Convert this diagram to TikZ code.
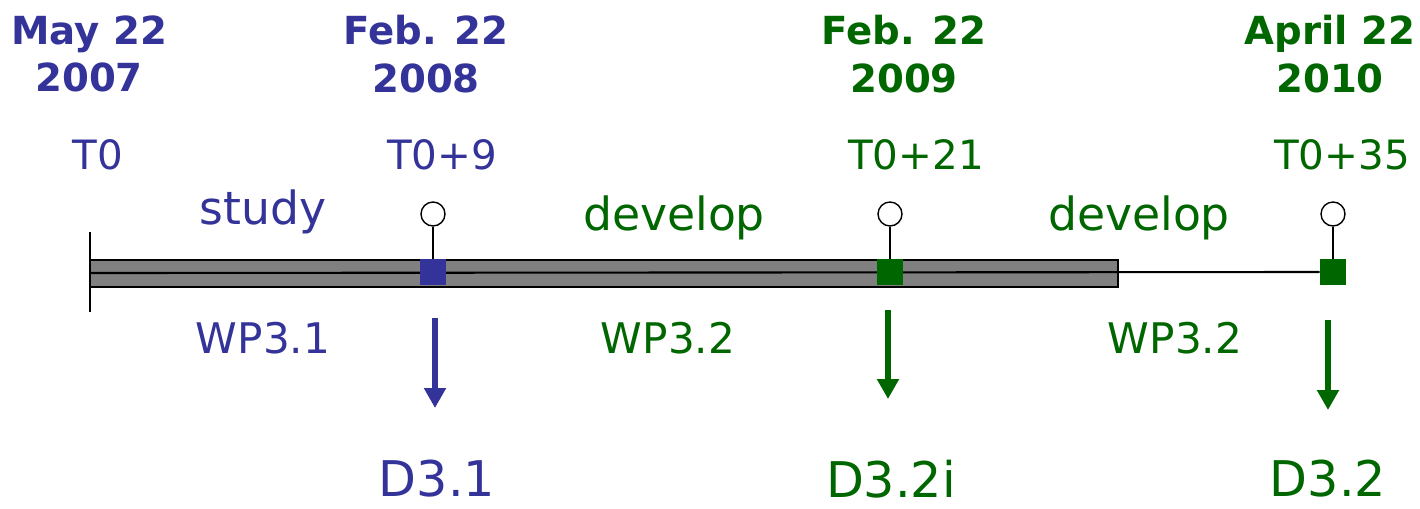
\documentclass[tikz,border=0pt]{standalone}
\usepackage{fontspec}
\setmainfont{DejaVu Sans}
\usetikzlibrary{arrows, arrows.meta, positioning}
\tikzset{>=stealth}
\definecolor{wpblue}{RGB}{51,51,153}
\definecolor{wpgreen}{RGB}{0,102,0}
\tikzset{
  date/.style={font=\bfseries\fontsize{22}{27}\selectfont, align=center, inner sep=0pt},
  month/.style={font=\fontsize{23}{27}\selectfont, inner sep=0pt},
  task/.style={font=\fontsize{26}{30}\selectfont, inner sep=0pt},
  wp/.style={font=\fontsize{24}{28}\selectfont, inner sep=0pt},
  deliv/.style={font=\fontsize{28}{32}\selectfont, inner sep=0pt},
  milestone/.style={rectangle, minimum size=0.52cm, inner sep=0pt},
  gate/.style={circle, draw, line width=0.8pt, fill=white, minimum size=0.48cm, inner sep=0pt},
  push/.style={-{Triangle[width=0.42cm, length=0.4cm]}, line width=3pt}
}
\begin{document}
\begin{tikzpicture}[x=0.02cm, y=-0.02cm]
\useasboundingbox (0,0) rectangle (1420,508);

% dates
\node[date, wpblue] (date0) at (89,54) {May 22\\2007};
\node[date, wpblue] (date9) at (426,54) {Feb. 22\\2008};
\node[date, wpgreen] (date21) at (904,54) {Feb. 22\\2009};
\node[date, wpgreen] (date35) at (1330,54) {April 22\\2010};

% months after T0
\node[month, wpblue] (t0) at (98,155) {T0};
\node[month, wpblue] (t9) at (442,155) {T0+9};
\node[month, wpgreen] (t21) at (916,155) {T0+21};
\node[month, wpgreen] (t35) at (1342,155) {T0+35};

% what is done
\node[task, wpblue] (study) at (263,212) {study};
\node[task, wpgreen] (dev1) at (674,218) {develop};
\node[task, wpgreen] (dev2) at (1139,218) {develop};

% time line
\draw[line width=1pt, fill=gray] (90,260) rectangle (1118,287);
\coordinate (start) at (90,273);
\coordinate (tickup) at (90,232);
\coordinate (tickdown) at (90,312);
\draw[line width=1pt] (tickup) -- (tickdown);

\node[milestone, fill=wpblue] (sq9) at (433,272) {};
\node[milestone, fill=wpgreen] (sq21) at (890,272) {};
\node[milestone, fill=wpgreen] (sq35) at (1333,272) {};
\draw[line width=1.2pt] (start) -- (sq35.west);
\node[milestone, fill=wpblue] at (sq9) {};
\node[milestone, fill=wpgreen] at (sq21) {};

% review points
\node[gate] (c9) at (433,214) {};
\node[gate] (c21) at (890,214) {};
\node[gate] (c35) at (1333,214) {};
\draw[line width=0.9pt] (c9) -- (sq9);
\draw[line width=0.9pt] (c21) -- (sq21);
\draw[line width=0.9pt] (c35) -- (sq35);

% work packages
\node[wp, wpblue] (wp31) at (263,338) {WP3.1};
\node[wp, wpgreen] (wp32a) at (668,338) {WP3.2};
\node[wp, wpgreen] (wp32b) at (1175,338) {WP3.2};

% deliverables
\coordinate (a9) at (435,318);
\coordinate (b9) at (435,408);
\coordinate (a21) at (888,310);
\coordinate (b21) at (888,399);
\coordinate (a35) at (1328,320);
\coordinate (b35) at (1328,410);
\draw[push, wpblue] (a9) -- (b9);
\draw[push, wpgreen] (a21) -- (b21);
\draw[push, wpgreen] (a35) -- (b35);

\node[deliv, wpblue] (d31) at (437,479) {D3.1};
\node[deliv, wpgreen] (d32i) at (891,479) {D3.2i};
\node[deliv, wpgreen] (d32) at (1328,479) {D3.2};

\end{tikzpicture}
\end{document}
